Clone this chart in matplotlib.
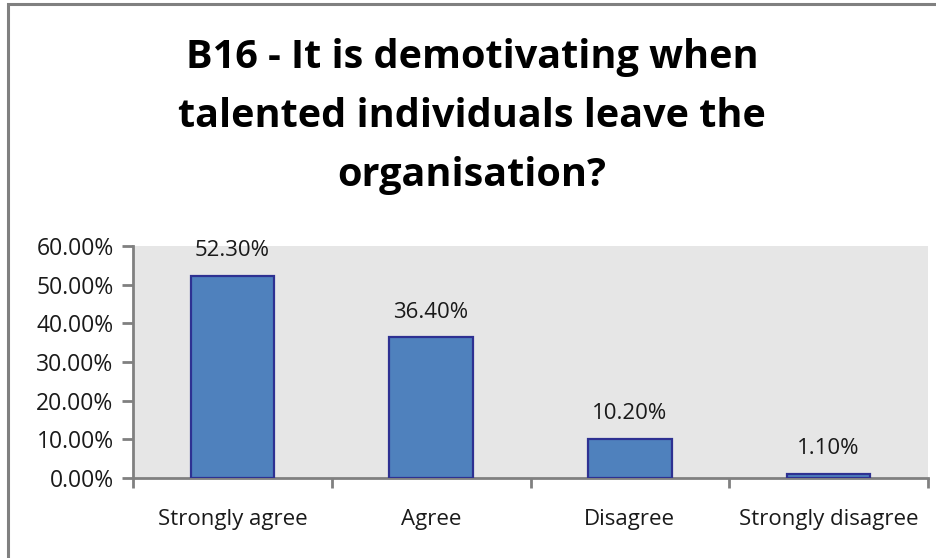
import matplotlib
matplotlib.use("Agg")
import matplotlib.pyplot as plt
from matplotlib.patches import Rectangle
import numpy as np

categories = ["Strongly agree", "Agree", "Disagree", "Strongly disagree"]
percentages = [52.30, 36.40, 10.20, 1.10]
yticks = [0, 10, 20, 30, 40, 50, 60]
title_lines = ["B16 - It is demotivating when",
               "talented individuals leave the",
               "organisation?"]

plt.rcParams["font.family"] = ["Open Sans", "DejaVu Sans"]

fig = plt.figure(figsize=(9.36, 5.58), dpi=100)
fig.patch.set_facecolor("white")

# chart border, open to the right and bottom
fig.patches.append(Rectangle((8 / 936, -0.2), 1.2, 1.2 - 4 / 558,
                             transform=fig.transFigure, fill=False,
                             edgecolor="#808080", lw=2.2))

ax = fig.add_axes([133 / 936, 1 - 478 / 558, (928 - 133) / 936, (478 - 246) / 558])
ax.set_facecolor("#e6e6e6")

x = np.arange(len(categories))
bars = ax.bar(x, percentages, width=0.42, color="#4f81bd",
              edgecolor="#2e3192", linewidth=1.6, zorder=3)

for xi, val in zip(x, percentages):
    ax.annotate("%.2f%%" % val, (xi, val), xytext=(0, 18),
                textcoords="offset points", ha="center", va="center",
                fontsize=16, color="#1a1a1a")

ax.set_xlim(-0.5, len(categories) - 0.5)
ax.set_ylim(0, 60)
ax.set_yticks(yticks)
ax.set_yticklabels(["%.2f%%" % t for t in yticks])
ax.set_xticks(x)
ax.set_xticklabels(categories)
ax.set_xticks(np.arange(-0.5, len(categories), 1), minor=True)

ax.tick_params(axis="x", which="major", length=0, pad=22, labelsize=16,
               labelcolor="#1a1a1a")
ax.tick_params(axis="x", which="minor", length=7, width=2, color="#808080",
               direction="out")
ax.tick_params(axis="y", length=8, width=2, color="#808080", pad=6,
               labelsize=16.5, labelcolor="#1a1a1a")

for side in ["top", "right"]:
    ax.spines[side].set_visible(False)
for side in ["left", "bottom"]:
    ax.spines[side].set_color("#808080")
    ax.spines[side].set_linewidth(2)

baselines = [68, 127, 186]
for line, yb in zip(title_lines, baselines):
    fig.text(472 / 936, 1 - yb / 558, line, ha="center", va="baseline",
             fontsize=28.5, fontweight="bold", color="black")

fig.savefig("out.png", dpi=100)
